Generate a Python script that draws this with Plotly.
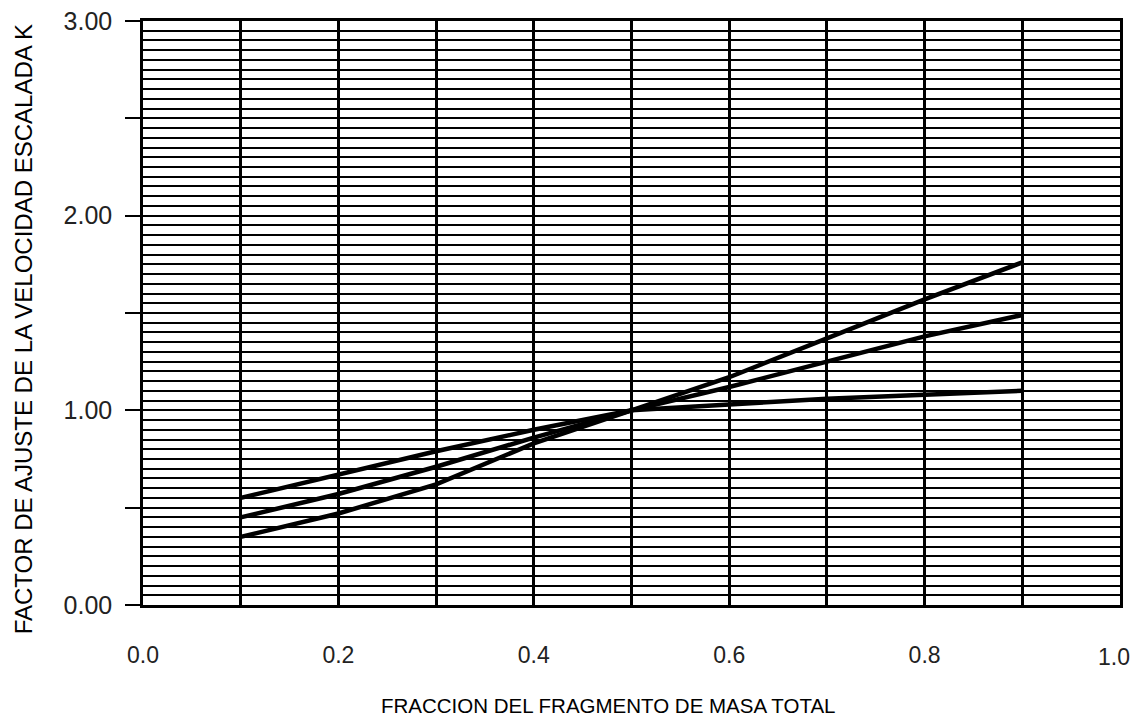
import plotly.graph_objects as go

# Data
fraccion = [0.1, 0.2, 0.3, 0.4, 0.5, 0.6, 0.7, 0.8, 0.9]
k_curva_a = [0.35, 0.47, 0.62, 0.83, 1.00, 1.17, 1.37, 1.57, 1.76]
k_curva_b = [0.45, 0.57, 0.71, 0.86, 1.00, 1.12, 1.25, 1.38, 1.49]
k_curva_c = [0.55, 0.67, 0.79, 0.90, 1.00, 1.03, 1.06, 1.08, 1.10]

x_tick_vals = [0.0, 0.2, 0.4, 0.6, 0.8, 1.0]
x_tick_text = ["0.0", "0.2", "0.4", "0.6", "0.8", "1.0"]
y_tick_vals = [0.0, 0.5, 1.0, 1.5, 2.0, 2.5, 3.0]
y_tick_text = ["0.00", "", "1.00", "", "2.00", "", "3.00"]

x_title = "FRACCION DEL FRAGMENTO DE MASA TOTAL"
y_title = "FACTOR DE AJUSTE DE LA VELOCIDAD ESCALADA K"

font_family = "Liberation Sans, Arial, sans-serif"

fig = go.Figure()
for serie in (k_curva_a, k_curva_b, k_curva_c):
    fig.add_trace(go.Scatter(
        x=fraccion, y=serie, mode="lines",
        line=dict(color="black", width=4.5),
        showlegend=False, hoverinfo="skip",
    ))

# page body has an 8px margin on every side, so the figure is sized to fit the window
fig.update_layout(
    width=1125, height=711,
    margin=dict(l=135, r=13, t=13, b=114),
    paper_bgcolor="white", plot_bgcolor="white",
    font=dict(family=font_family, color="black", size=22),
    showlegend=False,
)

# the last x label sits at the very edge, so it is drawn as an annotation nudged inside
fig.update_xaxes(
    range=[0, 1.0], automargin=False, ticklabeloverflow="allow",
    tickvals=x_tick_vals[:-1], ticktext=x_tick_text[:-1],
    ticks="", ticklabelstandoff=28,
    showgrid=True, gridcolor="black", gridwidth=2.5,
    minor=dict(dtick=0.1, tick0=0, showgrid=True, gridcolor="black", gridwidth=2.5, ticks=""),
    showline=True, linecolor="black", linewidth=2.5, mirror=True,
    zeroline=False,
    tickfont=dict(size=23, color="#222"),
)
fig.add_annotation(
    text=x_tick_text[-1], xref="x", yref="paper",
    x=x_tick_vals[-1], y=0, xanchor="right", yanchor="middle",
    xshift=12, yshift=-52, showarrow=False,
    font=dict(size=23, family=font_family, color="#222"),
)

fig.update_yaxes(
    range=[0, 3.0], automargin=False, ticklabeloverflow="allow",
    tickvals=y_tick_vals, ticktext=y_tick_text,
    ticks="outside", ticklen=15, tickwidth=1.5, tickcolor="black",
    ticklabelstandoff=8,
    showgrid=True, gridcolor="black", gridwidth=1.8,
    minor=dict(dtick=0.05, tick0=0, showgrid=True, gridcolor="black", gridwidth=1.8, ticks=""),
    showline=True, linecolor="black", linewidth=2.5, mirror=True,
    zeroline=False,
    tickfont=dict(size=25, color="#222"),
)

fig.add_annotation(
    text=y_title, xref="paper", yref="paper",
    x=-0.1225, y=0.4726, xanchor="center", yanchor="middle",
    textangle=-90, showarrow=False,
    font=dict(size=24, family=font_family, color="black"),
)
fig.add_annotation(
    text=x_title, xref="paper", yref="paper",
    x=0.476, y=-0.172, xanchor="center", yanchor="middle",
    showarrow=False,
    font=dict(size=20.5, family=font_family, color="black"),
)

fig.write_html("out.html")
